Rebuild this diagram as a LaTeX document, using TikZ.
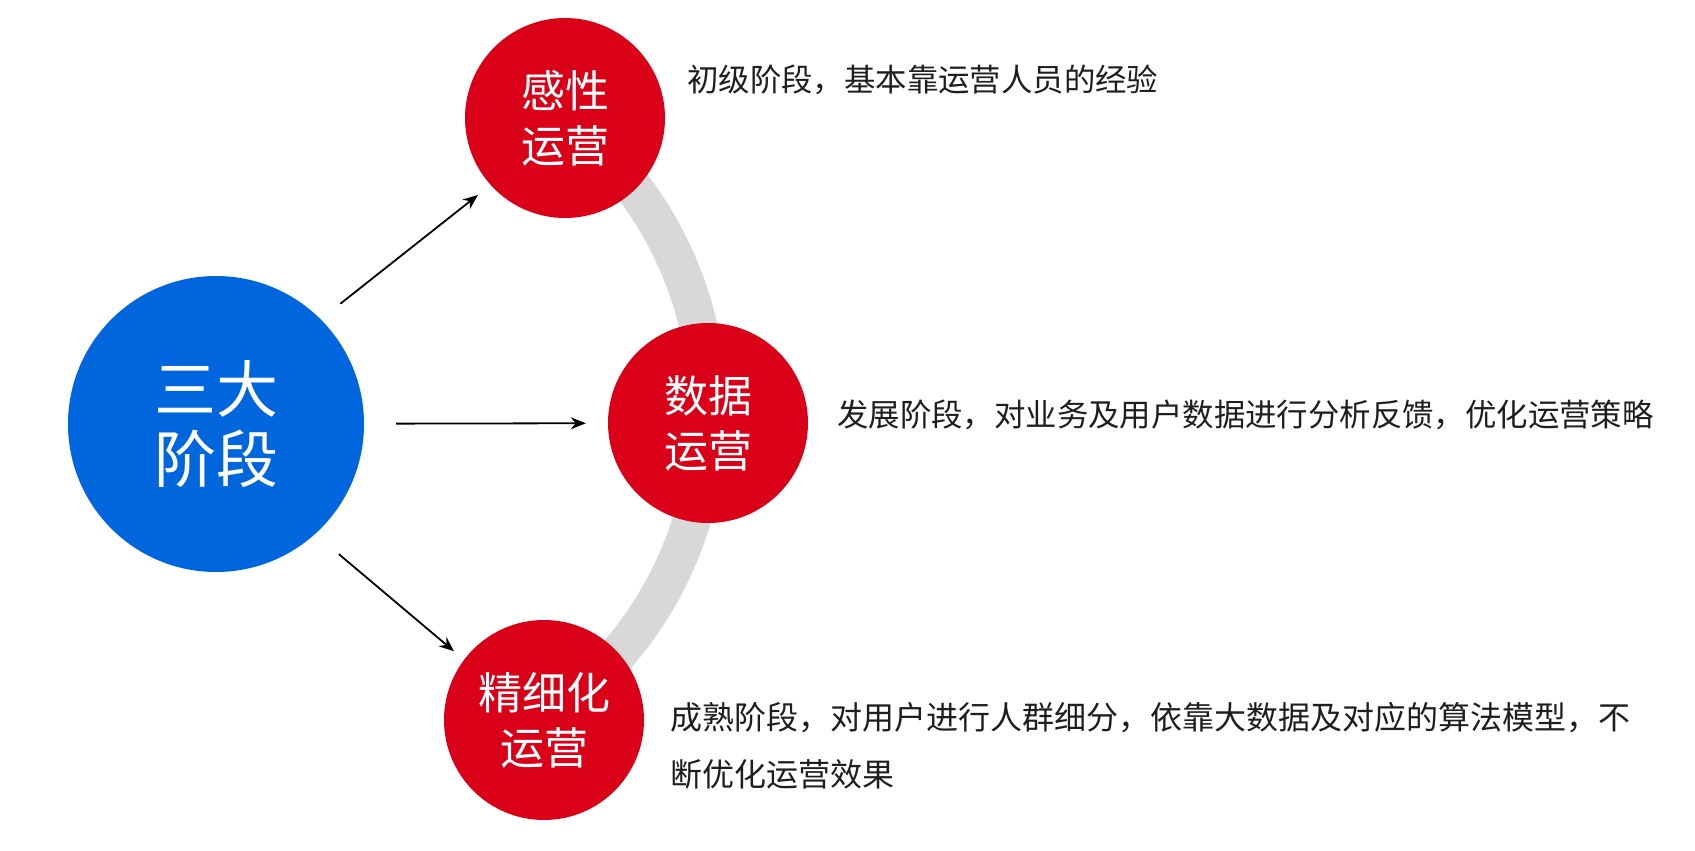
\documentclass[tikz,border=0pt]{standalone}
\usepackage{fontspec}
\newfontfamily\cjk{Noto Sans CJK SC}
\usetikzlibrary{arrows.meta,backgrounds}
\definecolor{stageblue}{RGB}{0,102,221}
\definecolor{stagered}{RGB}{218,0,24}
\definecolor{arcgray}{RGB}{216,216,216}
\definecolor{txtcol}{RGB}{30,30,30}
\begin{document}
\begin{tikzpicture}[x=1pt,y=1pt,
  bigdot/.style={circle,fill=stageblue,minimum size=296pt,inner sep=0pt,text=white,align=center,font=\cjk\fontsize{62}{70}\selectfont},
  reddot/.style={circle,fill=stagered,minimum size=200pt,inner sep=0pt,text=white,align=center,font=\cjk\fontsize{44}{55}\selectfont},
  desc/.style={anchor=west,inner sep=0pt,text=txtcol,align=left,font=\cjk\fontsize{31.4}{57}\selectfont},
  arr/.style={draw=black,line width=1.8pt,-{Stealth[length=15pt,width=12pt]}},
  band/.style={draw=arcgray,line width=38pt}]
\useasboundingbox (0,0) rectangle (1695,-851);
\node[bigdot] (big) at (216,-424) {三大\\阶段};
\node[reddot] (fs) at (565,-118) {感性\\运营};
\node[reddot] (ds) at (708,-423) {数据\\运营};
\node[reddot] (jx) at (544,-720) {精细化\\运营};
\begin{pgfonlayer}{background}
\draw[band] (fs.center) to[bend left=27,looseness=0.9] (ds.center) to[bend left=27,looseness=0.9] (jx.center);
\end{pgfonlayer}
\draw[arr,shorten <=25pt,shorten >=16pt] (big.45) -- (fs.222.7);
\draw[arr,shorten <=32pt,shorten >=22pt] (big) -- (ds);
\draw[arr,shorten <=31pt,shorten >=13pt] (big.-48) -- (jx.143.5);
\node[desc] (d1) at (687,-80) {初级阶段，基本靠运营人员的经验};
\node[desc] (d2) at (837,-415) {发展阶段，对业务及用户数据进行分析反馈，优化运营策略};
\node[desc,font=\cjk\fontsize{32}{57}\selectfont] (d3) at (670,-746) {成熟阶段，对用户进行人群细分，依靠大数据及对应的算法模型，不\\断优化运营效果};
\end{tikzpicture}
\end{document}
